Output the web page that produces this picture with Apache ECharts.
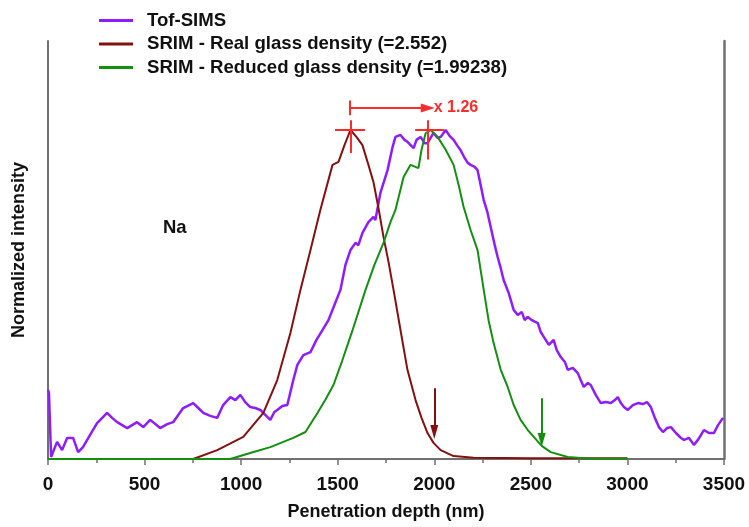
<!DOCTYPE html>
<html>
<head>
<meta charset="utf-8">
<script src="https://cdn.jsdelivr.net/npm/echarts@6/dist/echarts.min.js"></script>
<style>html,body{margin:0;padding:0;background:#fff}#c{width:749px;height:527px}</style>
</head>
<body>
<div id="c"></div>
<script>
// ---- data ----
var seriesNames = ['Tof-SIMS', 'SRIM - Real glass density (=2.552)', 'SRIM - Reduced glass density (=1.99238)'];
var xTicks = [0, 500, 1000, 1500, 2000, 2500, 3000, 3500];

var tofX = [0,5,16,47,73,99,130,156,181,218,254,306,332,358,410,461,493,529,581,617,648,700,752,778,804,840,876,907,944,970,996,1021,1047,1073,1099,1125,1151,1172,1187,1213,1239,1270,1291,1322,1359,1390,1421,1452,1483,1514,1540,1566,1592,1607,1628,1659,1685,1695,1721,1758,1784,1799,1825,1846,1861,1893,1908,1929,1950,1965,1996,2017,2033,2059,2079,2100,2121,2136,2157,2173,2188,2209,2224,2240,2256,2276,2292,2313,2328,2344,2359,2385,2411,2432,2453,2468,2484,2505,2536,2551,2567,2593,2618,2634,2655,2676,2691,2717,2743,2758,2774,2795,2810,2836,2862,2888,2914,2935,2950,2966,2982,3002,3028,3054,3080,3101,3121,3142,3163,3184,3205,3225,3251,3277,3293,3319,3344,3365,3381,3396,3422,3448,3469,3495];
var tofY = [0.21,0.20,0.006,0.052,0.027,0.064,0.064,0.021,0.036,0.073,0.109,0.14,0.125,0.112,0.094,0.112,0.097,0.119,0.094,0.106,0.112,0.155,0.17,0.155,0.14,0.131,0.125,0.164,0.188,0.179,0.195,0.173,0.158,0.155,0.149,0.134,0.119,0.143,0.149,0.161,0.164,0.24,0.286,0.316,0.325,0.362,0.392,0.422,0.468,0.514,0.59,0.635,0.657,0.65,0.687,0.72,0.736,0.726,0.809,0.878,0.948,0.979,0.985,0.97,0.964,0.945,0.97,0.979,0.96,0.96,0.991,0.976,0.979,1.0,0.982,0.97,0.951,0.939,0.915,0.9,0.894,0.888,0.878,0.833,0.787,0.748,0.705,0.65,0.614,0.58,0.544,0.505,0.453,0.438,0.447,0.422,0.432,0.422,0.413,0.386,0.371,0.347,0.362,0.331,0.31,0.295,0.271,0.277,0.261,0.24,0.219,0.231,0.225,0.195,0.17,0.173,0.17,0.179,0.188,0.17,0.158,0.149,0.164,0.17,0.167,0.173,0.158,0.125,0.097,0.082,0.094,0.097,0.079,0.064,0.058,0.064,0.043,0.058,0.073,0.088,0.079,0.079,0.103,0.125];

var realX = [0,500,752,876,1011,1115,1187,1255,1307,1359,1410,1473,1504,1535,1566,1597,1628,1659,1685,1711,1737,1763,1789,1825,1861,1903,1934,1965,1996,2033,2100,2204,2500,3000];
var realY = [0,0,0,0.027,0.067,0.14,0.24,0.383,0.514,0.635,0.757,0.894,0.903,0.954,1.0,0.979,0.954,0.894,0.842,0.763,0.675,0.599,0.514,0.392,0.271,0.179,0.125,0.079,0.049,0.027,0.009,0.004,0.002,0.002];

var redX = [0,500,944,1047,1151,1270,1333,1395,1436,1478,1524,1576,1644,1690,1737,1773,1799,1841,1877,1918,1934,1955,1981,2017,2059,2100,2126,2152,2188,2224,2256,2281,2307,2344,2380,2411,2447,2484,2515,2556,2603,2691,2810,3000];
var redY = [0,0,0,0.018,0.036,0.064,0.082,0.14,0.18,0.225,0.30,0.39,0.514,0.59,0.657,0.72,0.757,0.857,0.894,0.884,0.94,0.99,1.0,0.979,0.94,0.894,0.833,0.766,0.696,0.635,0.514,0.422,0.353,0.271,0.219,0.164,0.119,0.088,0.067,0.04,0.021,0.006,0.001,0.001];

// annotation values
var peakReal = 1566, peakReduced = 1981, ratioText = 'x 1.26';
var arrowRealX = 2000, arrowReducedX = 2556;

function pairs(xs, ys){ return xs.map(function(x,i){ return [x, ys[i]]; }); }

var cPurple = '#8f1cff', cDark = '#861010', cGreen = '#13900f', cRed = '#ff2a2a';
var font = 'Liberation Sans, Arial, sans-serif';
var lineIcon = 'path://M0,0L34,0L34,3L0,3Z';

var chart = echarts.init(document.getElementById('c'));
chart.setOption({
  animation: false,
  backgroundColor: '#fff',
  grid: { left: 48, right: 25, top: 41, bottom: 68 },
  legend: {
    orient: 'vertical', left: 94, top: 6, itemWidth: 34, itemHeight: 3, itemGap: 4.5,
    textStyle: { fontFamily: font, fontWeight: 'bold', fontSize: 18.6, color: '#111', lineHeight: 19, padding: [0,0,0,9] },
    data: seriesNames.map(function(n){ return { name: n, icon: lineIcon }; })
  },
  xAxis: {
    type: 'value', min: 0, max: 3500, interval: 500,
    name: 'Penetration depth (nm)', nameLocation: 'middle', nameGap: 44,
    nameTextStyle: { fontFamily: font, fontWeight: 'bold', fontSize: 18, color: '#111' },
    axisLine: { show: true, lineStyle: { color: '#707070', width: 2 } },
    axisTick: { show: true, length: 6, lineStyle: { color: '#707070', width: 1.5 } },
    minorTick: { show: true, splitNumber: 2, length: 4, lineStyle: { color: '#707070', width: 1.5 } },
    axisLabel: { fontFamily: font, fontWeight: 'bold', fontSize: 19, color: '#111', margin: 16,
      formatter: function(v){ return xTicks.indexOf(v) >= 0 ? String(v) : ''; } },
    splitLine: { show: false }
  },
  yAxis: [{
    type: 'value', min: 0, max: 1.2705, position: 'left',
    name: 'Normalized intensity', nameLocation: 'middle', nameGap: 20,
    nameTextStyle: { fontFamily: font, fontWeight: 'bold', fontSize: 18, color: '#111' },
    axisLine: { show: true, lineStyle: { color: '#707070', width: 2 } },
    axisTick: { show: false }, axisLabel: { show: false }, splitLine: { show: false }
  }, {
    type: 'value', min: 0, max: 1.2705, position: 'right',
    axisLine: { show: true, lineStyle: { color: '#707070', width: 2.5 } },
    axisTick: { show: false }, axisLabel: { show: false }, splitLine: { show: false }
  }],
  series: [
    { name: seriesNames[0], type: 'line', data: pairs(tofX, tofY), showSymbol: false, symbol: 'none',
      lineStyle: { color: cPurple, width: 2.5 }, itemStyle: { color: cPurple }, z: 3 },
    { name: seriesNames[1], type: 'line', data: pairs(realX, realY), showSymbol: false, symbol: 'none',
      lineStyle: { color: cDark, width: 2 }, itemStyle: { color: cDark }, z: 4,
      markLine: {
        silent: true, animation: false,
        label: { show: false },
        data: [
          [{ coord: [arrowRealX, 0.215], symbol: 'none' }, { coord: [arrowRealX, 0.082], symbol: 'triangle', symbolSize: [8, 14], symbolRotate: 180 }]
        ],
        lineStyle: { color: cDark, width: 2, type: 'solid' }
      }
    },
    { name: seriesNames[2], type: 'line', data: pairs(redX, redY), showSymbol: false, symbol: 'none',
      lineStyle: { color: cGreen, width: 2 }, itemStyle: { color: cGreen }, z: 4,
      markLine: {
        silent: true, animation: false,
        label: { show: false },
        data: [
          [{ coord: [arrowReducedX, 0.185], symbol: 'none' }, { coord: [arrowReducedX, 0.058], symbol: 'triangle', symbolSize: [8, 14], symbolRotate: 180 }]
        ],
        lineStyle: { color: cGreen, width: 2, type: 'solid' }
      }
    },
    { name: 'annot', type: 'line', data: [], xAxisIndex: 0, yAxisIndex: 0, z: 5,
      markLine: {
        silent: true, animation: false, symbol: 'none',
        lineStyle: { color: cRed, width: 2, type: 'solid' },
        label: { show: false },
        data: [
          [{ coord: [peakReal - 80, 1.0] }, { coord: [peakReal + 75, 1.0] }],
          [{ coord: [peakReal, 0.93] }, { coord: [peakReal, 1.03] }],
          [{ coord: [peakReduced - 80, 1.0] }, { coord: [peakReduced + 70, 1.0] }],
          [{ coord: [peakReduced - 15, 0.91] }, { coord: [peakReduced - 15, 1.03] }],
          [{ coord: [peakReal - 5, 1.045] }, { coord: [peakReal - 5, 1.09] }],
          [{ coord: [peakReal - 5, 1.067] }, { coord: [peakReduced - 15, 1.067], symbol: 'triangle', symbolSize: [9, 14], symbolRotate: -90,
            label: { show: true, position: 'end', formatter: ratioText, color: cRed, fontFamily: font, fontWeight: 'bold', fontSize: 16, distance: 6 } }]
        ]
      }
    }
  ],
  graphic: [
    { type: 'text', left: 163, top: 218, style: { text: 'Na', fontFamily: font, fontWeight: 'bold', fontSize: 18.5, fill: '#111' } }
  ]
});
</script>
</body>
</html>
